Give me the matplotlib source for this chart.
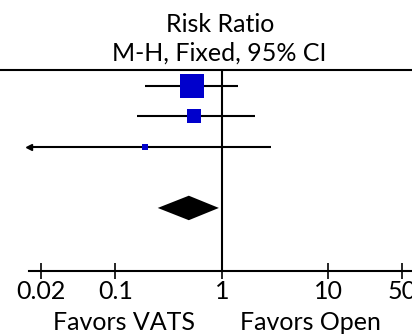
import matplotlib
matplotlib.use("Agg")
import matplotlib.pyplot as plt
import numpy as np

plt.rcParams['font.family'] = ['Lato', 'DejaVu Sans']

# Data
study_rr = [0.52, 0.55, 0.19]
study_lo = [0.19, 0.16, 0.001]
study_hi = [1.42, 2.06, 2.91]
study_weight = [69, 26, 5]
pooled_rr = 0.49
pooled_lo = 0.25
pooled_hi = 0.94
tick_values = [0.02, 0.1, 1, 10, 50]
tick_labels = ["0.02", "0.1", "1", "10", "50"]
title_lines = ["Risk Ratio", "M-H, Fixed, 95% CI"]
left_label = "Favors VATS"
right_label = "Favors Open"

W, H = 412, 336
fig = plt.figure(figsize=(W / 100, H / 100), dpi=100)
top_px, bot_px = 70, 271
ax = fig.add_axes([0, (H - bot_px) / H, 1, (bot_px - top_px) / H])
ax.set_xscale('log')
xmin, xmax = 0.0082, 61.7
ax.set_xlim(xmin, xmax)
ax.set_ylim(6.06, -0.507)
display_min = 0.0153

lw = 1.5
for i, (rr, lo, hi, w) in enumerate(zip(study_rr, study_lo, study_hi, study_weight)):
    lo_c = max(lo, display_min)
    ax.plot([lo_c, hi], [i, i], color='black', lw=lw, solid_capstyle='butt', zorder=2)
    if lo < display_min:
        ax.plot([lo_c], [i], marker='<', color='black', markersize=5, zorder=3)
    ax.plot([rr], [i], marker='s', color='#0000cc', markersize=2.0 * np.sqrt(w),
            markeredgewidth=0, zorder=4)

dy = 0.4
diamond_y = len(study_rr) + 1
ax.fill([pooled_lo, pooled_rr, pooled_hi, pooled_rr],
        [diamond_y, diamond_y - dy, diamond_y, diamond_y + dy],
        color='black', lw=0, zorder=4)

ax.axvline(1, color='black', lw=lw, zorder=3)

for s in ['left', 'right']:
    ax.spines[s].set_visible(False)
ax.spines['top'].set_linewidth(lw)
ax.spines['bottom'].set_linewidth(lw)
ax.spines['bottom'].set_bounds(display_min, xmax)

ax.set_yticks([])
ax.set_xticks(tick_values)
ax.set_xticklabels(tick_labels)
ax.minorticks_off()
ax.tick_params(axis='x', direction='inout', length=11.5, width=1.2,
               labelsize=18, pad=1)

fig.text(220 / W, 1 - 24 / H, title_lines[0], ha='center', va='center', fontsize=18)
fig.text(219 / W, 1 - 53 / H, title_lines[1], ha='center', va='center', fontsize=18)
fig.text(124 / W, 1 - 322 / H, left_label, ha='center', va='center', fontsize=18)
fig.text(310 / W, 1 - 322 / H, right_label, ha='center', va='center', fontsize=18)

fig.savefig("out.png", dpi=100)
